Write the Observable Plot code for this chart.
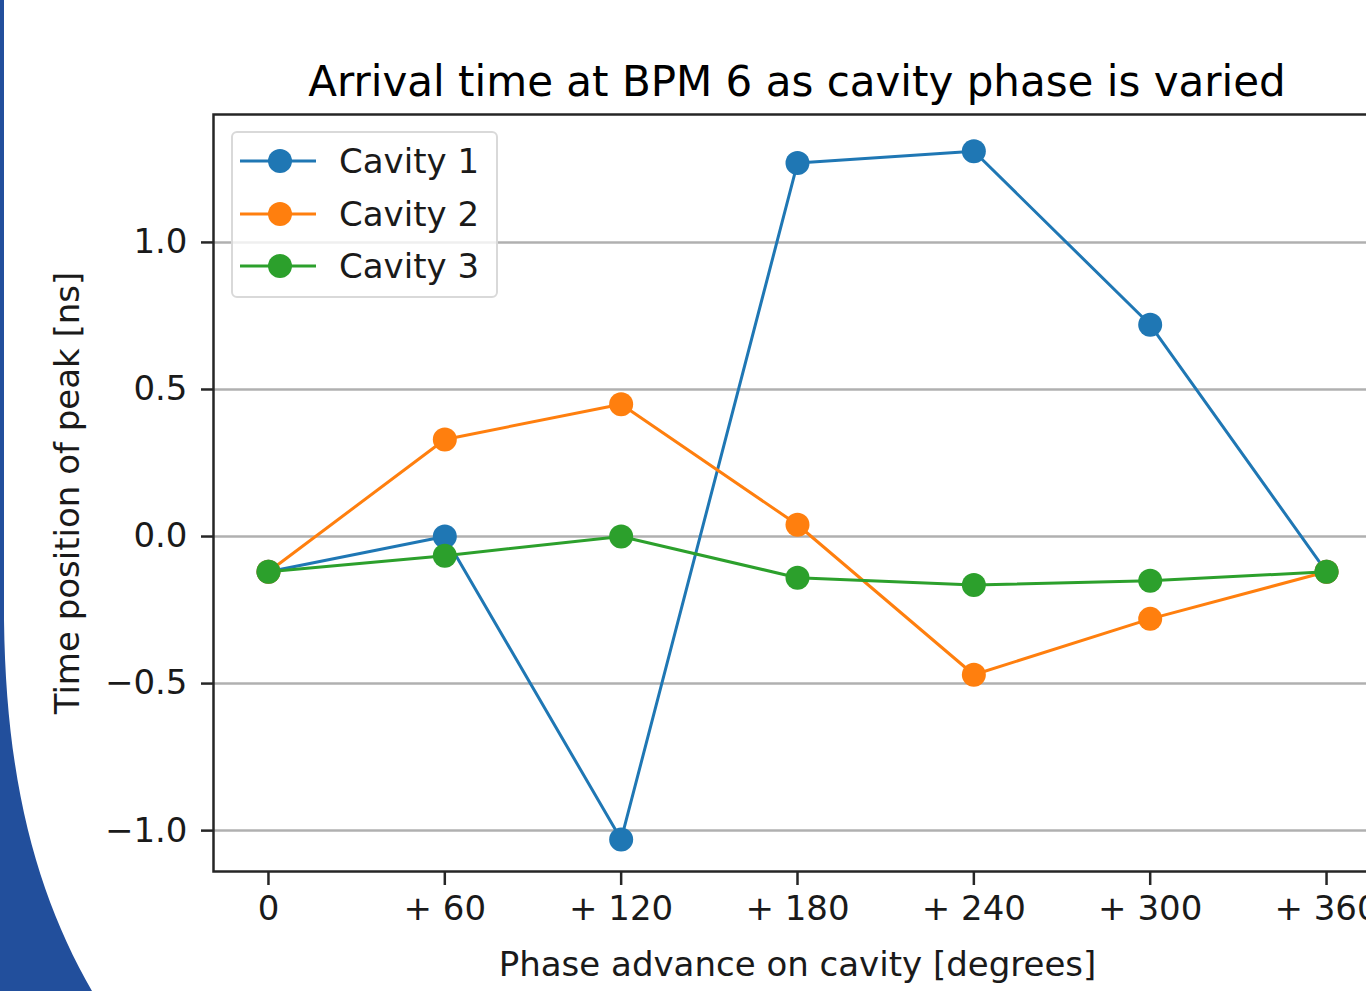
<!DOCTYPE html>
<html>
<head>
<meta charset="utf-8">
<script src="https://cdn.jsdelivr.net/npm/d3@7"></script>
<script src="https://cdn.jsdelivr.net/npm/@observablehq/plot@0.6"></script>
<style>
  html, body { margin: 0; padding: 0; background: #fff; overflow: hidden; width: 1366px; height: 991px; }
  #wrap { position: relative; width: 1366px; height: 991px; overflow: hidden; font-family: "DejaVu Sans", sans-serif; }
  #deco { position: absolute; left: 0; top: 0; }
  #chart { position: absolute; left: 0; top: 0; width: 1400px; }
  #chart svg { max-width: none !important; }
  #title { position: absolute; left: 213px; width: 1168px; top: 57px; text-align: center; font-size: 42px; color: #000; white-space: nowrap; }
  #legend { position: absolute; left: 231px; top: 131px; width: 263px; height: 163px; border: 2px solid #d9d9d9; border-radius: 6px; background: rgba(255,255,255,0.8); }
  .row { position: absolute; left: 0; height: 40px; display: flex; align-items: center; }
  .row svg { margin-left: 7px; }
  .row span { margin-left: 23px; font-size: 34px; color: #1a1a1a; }
</style>
</head>
<body>
<div id="wrap">
  <svg id="deco" width="1366" height="991"><path d="M0,0 L4,0 L4,620 C6,790 40,900 92,991 L0,991 Z" fill="#224f9c"/></svg>
  <div id="chart"></div>
  <div id="title">Arrival time at BPM 6 as cavity phase is varied</div>
  <div id="legend"></div>
</div>
<script>
const phases = [0, 60, 120, 180, 240, 300, 360];
const xTickLabels = ["0", "+ 60", "+ 120", "+ 180", "+ 240", "+ 300", "+ 360"];
const yTicks = [-1.0, -0.5, 0.0, 0.5, 1.0];
const seriesNames = ["Cavity 1", "Cavity 2", "Cavity 3"];
const seriesColors = ["#1f77b4", "#ff7f0e", "#2ca02c"];
const cavity1 = [-0.12, 0.0, -1.03, 1.27, 1.31, 0.72, -0.12];
const cavity2 = [-0.12, 0.33, 0.45, 0.04, -0.47, -0.28, -0.12];
const cavity3 = [-0.12, -0.065, 0.0, -0.14, -0.165, -0.15, -0.12];
const seriesValues = [cavity1, cavity2, cavity3];

const data = [];
seriesValues.forEach((vals, s) => vals.forEach((v, i) => data.push({series: seriesNames[s], x: phases[i], y: v})));

const seriesMarks = [];
seriesNames.forEach((name, s) => {
  const d = data.filter(r => r.series === name);
  seriesMarks.push(Plot.line(d, {x: "x", y: "y", stroke: seriesColors[s], strokeWidth: 3}));
  seriesMarks.push(Plot.dot(d, {x: "x", y: "y", fill: seriesColors[s], r: 12, stroke: "none"}));
});

const fs = 34;
const chart = Plot.plot({
  width: 1400,
  height: 991,
  marginLeft: 213,
  marginRight: 19,
  marginTop: 114,
  marginBottom: 120,
  style: {fontFamily: "DejaVu Sans, sans-serif", background: "transparent", color: "#1a1a1a", overflow: "visible", maxWidth: "none"},
  x: {domain: [-18.7, 378.7]},
  y: {domain: [-1.139, 1.435]},
  marks: [
    Plot.gridY(yTicks, {stroke: "#b0b0b0", strokeOpacity: 1, strokeWidth: 2.5}),
    ...seriesMarks,
    Plot.frame({stroke: "#262626", strokeWidth: 2.5}),
    Plot.axisY(yTicks, {tickSize: 12, tickPadding: 14, tickFormat: d => d.toFixed(1).replace("-", "\u2212"), fontSize: fs, stroke: "#262626", strokeWidth: 2.5,
      label: "Time position of peak [ns]", labelAnchor: "center", labelArrow: "none", labelOffset: 159}),
    Plot.axisX(phases, {tickSize: 14, tickPadding: 10, tickFormat: d => xTickLabels[phases.indexOf(d)], fontSize: fs, stroke: "#262626", strokeWidth: 2.5,
      label: "Phase advance on cavity [degrees]", labelAnchor: "center", labelArrow: "none", labelOffset: 104})
  ]
});
chart.style.maxWidth = "none";
document.getElementById("chart").appendChild(chart);

const legend = document.getElementById("legend");
seriesNames.forEach((name, s) => {
  const row = document.createElement("div");
  row.className = "row";
  row.style.top = (8 + s * 52.5) + "px";
  row.innerHTML = `<svg width="76" height="30"><line x1="0" y1="15" x2="76" y2="15" stroke="${seriesColors[s]}" stroke-width="3"/><circle cx="40" cy="15" r="12" fill="${seriesColors[s]}"/></svg><span>${name}</span>`;
  legend.appendChild(row);
});
</script>
</body>
</html>
